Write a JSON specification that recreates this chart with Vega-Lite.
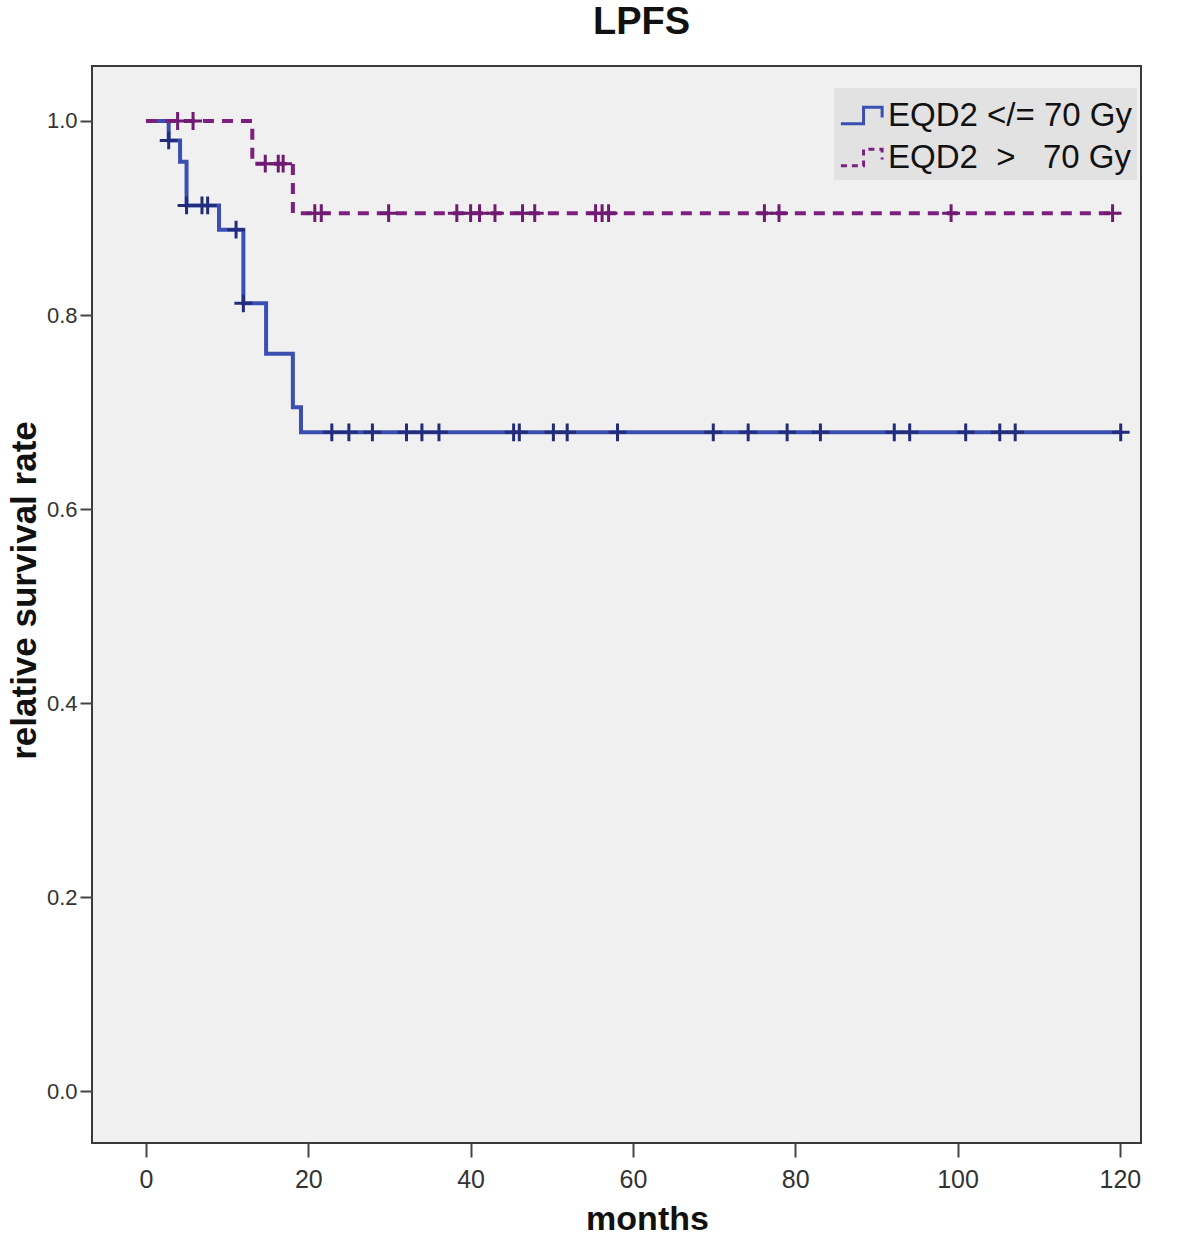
{
  "$schema": "https://vega.github.io/schema/vega-lite/v6.json",
  "width": 1049,
  "height": 1077,
  "autosize": {"type": "none"},
  "padding": {"left": 92, "top": 66, "right": 40, "bottom": 92},
  "background": "white",
  "config": {
    "view": {"fill": "#f0f0f0", "stroke": "#3a3a3a", "strokeWidth": 2},
    "font": "Liberation Sans"
  },
  "title": {"text": "LPFS", "fontSize": 38, "fontWeight": "bold", "color": "#111111", "offset": 24, "dx": 25, "anchor": "middle", "font": "Liberation Sans"},
  "datasets": {
    "curves": [
      {"g": "EQD2 </= 70 Gy", "m": 0, "s": 1.0},
      {"g": "EQD2 </= 70 Gy", "m": 2.8, "s": 0.98},
      {"g": "EQD2 </= 70 Gy", "m": 4.2, "s": 0.958},
      {"g": "EQD2 </= 70 Gy", "m": 5.0, "s": 0.913},
      {"g": "EQD2 </= 70 Gy", "m": 9.0, "s": 0.888},
      {"g": "EQD2 </= 70 Gy", "m": 12.0, "s": 0.812},
      {"g": "EQD2 </= 70 Gy", "m": 14.8, "s": 0.76},
      {"g": "EQD2 </= 70 Gy", "m": 18.1, "s": 0.705},
      {"g": "EQD2 </= 70 Gy", "m": 19.1, "s": 0.679},
      {"g": "EQD2 </= 70 Gy", "m": 120.3, "s": 0.679},
      {"g": "EQD2\u00a0 >\u00a0\u00a0 70 Gy", "m": 0, "s": 1.0},
      {"g": "EQD2\u00a0 >\u00a0\u00a0 70 Gy", "m": 13.1, "s": 0.956},
      {"g": "EQD2\u00a0 >\u00a0\u00a0 70 Gy", "m": 18.1, "s": 0.905},
      {"g": "EQD2\u00a0 >\u00a0\u00a0 70 Gy", "m": 119.8, "s": 0.905}
    ],
    "censors": [
      {"g": "EQD2 </= 70 Gy", "m": 2.8, "s": 0.98},
      {"g": "EQD2 </= 70 Gy", "m": 5.0, "s": 0.913},
      {"g": "EQD2 </= 70 Gy", "m": 6.9, "s": 0.913},
      {"g": "EQD2 </= 70 Gy", "m": 7.6, "s": 0.913},
      {"g": "EQD2 </= 70 Gy", "m": 11.1, "s": 0.888},
      {"g": "EQD2 </= 70 Gy", "m": 12.0, "s": 0.812},
      {"g": "EQD2 </= 70 Gy", "m": 22.9, "s": 0.679},
      {"g": "EQD2 </= 70 Gy", "m": 25.0, "s": 0.679},
      {"g": "EQD2 </= 70 Gy", "m": 27.9, "s": 0.679},
      {"g": "EQD2 </= 70 Gy", "m": 32.1, "s": 0.679},
      {"g": "EQD2 </= 70 Gy", "m": 34.0, "s": 0.679},
      {"g": "EQD2 </= 70 Gy", "m": 36.1, "s": 0.679},
      {"g": "EQD2 </= 70 Gy", "m": 45.3, "s": 0.679},
      {"g": "EQD2 </= 70 Gy", "m": 46.0, "s": 0.679},
      {"g": "EQD2 </= 70 Gy", "m": 50.2, "s": 0.679},
      {"g": "EQD2 </= 70 Gy", "m": 51.9, "s": 0.679},
      {"g": "EQD2 </= 70 Gy", "m": 58.1, "s": 0.679},
      {"g": "EQD2 </= 70 Gy", "m": 69.9, "s": 0.679},
      {"g": "EQD2 </= 70 Gy", "m": 74.2, "s": 0.679},
      {"g": "EQD2 </= 70 Gy", "m": 79.0, "s": 0.679},
      {"g": "EQD2 </= 70 Gy", "m": 83.1, "s": 0.679},
      {"g": "EQD2 </= 70 Gy", "m": 92.2, "s": 0.679},
      {"g": "EQD2 </= 70 Gy", "m": 94.1, "s": 0.679},
      {"g": "EQD2 </= 70 Gy", "m": 101.0, "s": 0.679},
      {"g": "EQD2 </= 70 Gy", "m": 105.2, "s": 0.679},
      {"g": "EQD2 </= 70 Gy", "m": 107.1, "s": 0.679},
      {"g": "EQD2 </= 70 Gy", "m": 120.1, "s": 0.679},
      {"g": "EQD2\u00a0 >\u00a0\u00a0 70 Gy", "m": 3.9, "s": 1.0},
      {"g": "EQD2\u00a0 >\u00a0\u00a0 70 Gy", "m": 5.8, "s": 1.0},
      {"g": "EQD2\u00a0 >\u00a0\u00a0 70 Gy", "m": 14.7, "s": 0.956},
      {"g": "EQD2\u00a0 >\u00a0\u00a0 70 Gy", "m": 16.3, "s": 0.956},
      {"g": "EQD2\u00a0 >\u00a0\u00a0 70 Gy", "m": 16.9, "s": 0.956},
      {"g": "EQD2\u00a0 >\u00a0\u00a0 70 Gy", "m": 20.8, "s": 0.905},
      {"g": "EQD2\u00a0 >\u00a0\u00a0 70 Gy", "m": 21.6, "s": 0.905},
      {"g": "EQD2\u00a0 >\u00a0\u00a0 70 Gy", "m": 29.9, "s": 0.905},
      {"g": "EQD2\u00a0 >\u00a0\u00a0 70 Gy", "m": 38.3, "s": 0.905},
      {"g": "EQD2\u00a0 >\u00a0\u00a0 70 Gy", "m": 40.0, "s": 0.905},
      {"g": "EQD2\u00a0 >\u00a0\u00a0 70 Gy", "m": 41.1, "s": 0.905},
      {"g": "EQD2\u00a0 >\u00a0\u00a0 70 Gy", "m": 43.0, "s": 0.905},
      {"g": "EQD2\u00a0 >\u00a0\u00a0 70 Gy", "m": 46.4, "s": 0.905},
      {"g": "EQD2\u00a0 >\u00a0\u00a0 70 Gy", "m": 47.9, "s": 0.905},
      {"g": "EQD2\u00a0 >\u00a0\u00a0 70 Gy", "m": 55.4, "s": 0.905},
      {"g": "EQD2\u00a0 >\u00a0\u00a0 70 Gy", "m": 56.2, "s": 0.905},
      {"g": "EQD2\u00a0 >\u00a0\u00a0 70 Gy", "m": 57.0, "s": 0.905},
      {"g": "EQD2\u00a0 >\u00a0\u00a0 70 Gy", "m": 76.2, "s": 0.905},
      {"g": "EQD2\u00a0 >\u00a0\u00a0 70 Gy", "m": 78.0, "s": 0.905},
      {"g": "EQD2\u00a0 >\u00a0\u00a0 70 Gy", "m": 99.2, "s": 0.905},
      {"g": "EQD2\u00a0 >\u00a0\u00a0 70 Gy", "m": 119.1, "s": 0.905}
    ]
  },
  "encoding": {
    "x": {
      "field": "m", "type": "quantitative",
      "scale": {"domain": [-6.65, 122.6], "nice": false, "zero": false},
      "axis": {
        "values": [0, 20, 40, 60, 80, 100, 120],
        "title": "months", "titleFontSize": 34, "titleFontWeight": "bold", "titleColor": "#111111",
        "titleX": 555, "titlePadding": 10,
        "labelFontSize": 25, "labelColor": "#333333", "labelPadding": 10,
        "tickSize": 14, "tickColor": "#444444", "tickWidth": 2,
        "domain": false, "grid": false
      }
    },
    "y": {
      "field": "s", "type": "quantitative",
      "scale": {"domain": [-0.0536, 1.0567], "nice": false, "zero": false},
      "axis": {
        "values": [0, 0.2, 0.4, 0.6, 0.8, 1.0], "format": ".1f",
        "title": "relative survival rate", "titleFontSize": 35, "titleFontWeight": "bold", "titleColor": "#111111",
        "titlePadding": 4, "titleY": 524,
        "labelFontSize": 22, "labelColor": "#333333", "labelPadding": 3,
        "tickSize": 12, "tickColor": "#444444", "tickWidth": 2,
        "domain": false, "grid": false
      }
    }
  },
  "layer": [
    {
      "data": {"name": "curves"},
      "mark": {"type": "line", "interpolate": "step-after", "strokeWidth": 4, "strokeCap": "butt"},
      "encoding": {
        "color": {
          "field": "g", "type": "nominal",
          "scale": {"domain": ["EQD2 </= 70 Gy", "EQD2\u00a0 >\u00a0\u00a0 70 Gy"], "range": ["#3b4fb3", "#7d1f80"]},
          "legend": {
            "orient": "none", "legendX": 742, "legendY": 22, "title": null,
            "fillColor": "#e2e2e2", "padding": 5,
            "labelFontSize": 33, "labelFont": "Liberation Sans", "labelColor": "#111111", "labelLimit": 400, "labelOffset": 4,
            "symbolType": "M-1,0.4L0.1,0.4L0.1,-0.4L1,-0.4L1,0.1",
            "symbolSize": 1700, "symbolStrokeWidth": 3, "rowPadding": 2,
            "encode": {"symbols": {"update": {"strokeDash": [{"test": "datum.value !== 'EQD2 </= 70 Gy'", "value": [6, 5]}, {"value": [1, 0]}]}}}
          }
        },
        "strokeDash": {
          "field": "g", "type": "nominal",
          "scale": {"domain": ["EQD2 </= 70 Gy", "EQD2\u00a0 >\u00a0\u00a0 70 Gy"], "range": [[1, 0], [11, 8]]},
          "legend": {
            "orient": "none", "legendX": 742, "legendY": 22, "title": null,
            "fillColor": "#e2e2e2", "padding": 5,
            "labelFontSize": 33, "labelFont": "Liberation Sans", "labelColor": "#111111", "labelLimit": 400, "labelOffset": 4,
            "symbolType": "M-1,0.4L0.1,0.4L0.1,-0.4L1,-0.4L1,0.1",
            "symbolSize": 1700, "symbolStrokeWidth": 3, "rowPadding": 2,
            "encode": {"symbols": {"update": {"strokeDash": [{"test": "datum.value !== 'EQD2 </= 70 Gy'", "value": [6, 5]}, {"value": [1, 0]}]}}}
          }
        }
      }
    },
    {
      "data": {"name": "censors"},
      "mark": {"type": "point", "shape": "M-1,0L1,0M0,-1L0,1", "filled": false, "size": 320, "strokeWidth": 3, "opacity": 1},
      "encoding": {
        "color": {
          "field": "g", "type": "nominal",
          "scale": {"domain": ["EQD2 </= 70 Gy", "EQD2\u00a0 >\u00a0\u00a0 70 Gy"], "range": ["#222c7a", "#701a72"]},
          "legend": null
        }
      }
    }
  ],
  "resolve": {"scale": {"color": "independent"}}
}
